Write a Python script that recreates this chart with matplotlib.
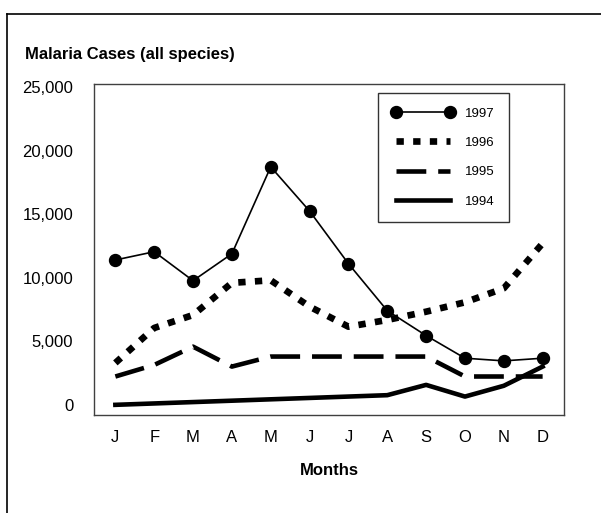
import matplotlib
matplotlib.use("Agg")
import matplotlib.pyplot as plt
from matplotlib.lines import Line2D

plt.rcParams["font.family"] = ["Liberation Sans", "DejaVu Sans"]

months = ["J", "F", "M", "A", "M", "J", "J", "A", "S", "O", "N", "D"]

cases_1997 = [11400, 12050, 9770, 11890, 18730, 15250, 11110, 7410, 5450, 3670, 3460, 3670]
cases_1996 = [3300, 6050, 7070, 9600, 9800, 7730, 6150, 6680, 7330, 8070, 9170, 12710]
cases_1995 = [2230, 3140, 4580, 3010, 3800, 3800, 3800, 3800, 3800, 2230, 2230, 2230]
# 1994: only some months reported, line joins them directly
months_1994 = [0, 7, 8, 9, 10, 11]
cases_1994 = [0, 760, 1570, 650, 1500, 3010]

yticks = [0, 5000, 10000, 15000, 20000, 25000]

W, H = 601, 513
fig = plt.figure(figsize=(W / 100, H / 100), dpi=100)
ax = fig.add_axes([94 / W, 1 - 415 / H, (564 - 94) / W, (415 - 84) / H])

x = list(range(len(months)))
ax.plot(x, cases_1997, color="black", lw=1.2, marker="o", markersize=8.6,
        label="1997")
ax.plot(x, cases_1996, color="black", lw=4.8, dashes=(1.1, 1.4),
        dash_capstyle="butt", label="1996")
ax.plot(x, cases_1995, color="black", lw=3.3, dashes=(6.5, 2.6),
        dash_capstyle="butt", label="1995")
ax.plot(months_1994, cases_1994, color="black", lw=3.3, label="1994")

ax.set_xlim(-0.55, 11.55)
ax.set_ylim(-800, 25250)
ax.set_xticks(x)
ax.set_xticklabels(months)
ax.set_yticks(yticks)
ax.set_yticklabels([f"{v:,}" for v in yticks])
ax.tick_params(axis="both", length=0, labelsize=12)
ax.tick_params(axis="y", pad=15)
ax.tick_params(axis="x", pad=11)
for s in ax.spines.values():
    s.set_color("#404040")
    s.set_linewidth(1.0)

ax.set_xlabel("Months", fontsize=12, fontweight="bold", labelpad=13)

leg = ax.legend(loc="upper left", bbox_to_anchor=(0.604, 0.973), numpoints=2,
                handlelength=4.7, fontsize=9.5, frameon=True, fancybox=False,
                borderpad=1.1, labelspacing=1.3, handletextpad=0.8,
                borderaxespad=0)
leg.get_frame().set_edgecolor("black")
leg.get_frame().set_linewidth(1.0)

fig.text(25 / W, 1 - 54 / H, "Malaria Cases (all species)", fontsize=12,
         fontweight="bold", va="center", ha="left")

# outer frame (runs off the right and bottom of the picture)
fig.add_artist(Line2D([7 / W, 1], [1 - 14 / H, 1 - 14 / H], color="black", lw=1.2))
fig.add_artist(Line2D([7 / W, 7 / W], [1 - 14 / H, 0], color="black", lw=1.2))

fig.savefig("out.png", dpi=100, facecolor="white")
